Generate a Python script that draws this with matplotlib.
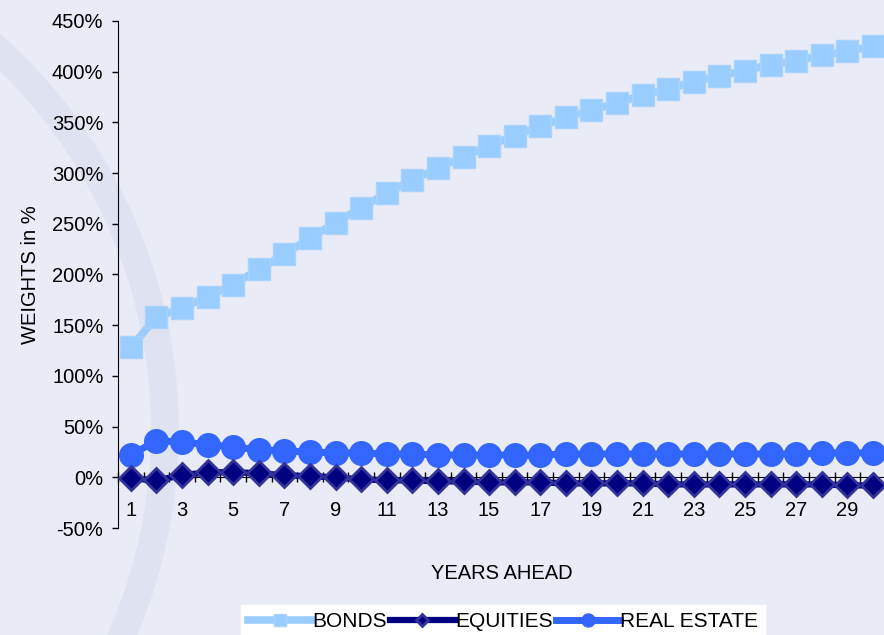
import matplotlib
matplotlib.use("Agg")
import matplotlib.pyplot as plt
from matplotlib.ticker import PercentFormatter, MultipleLocator, FixedLocator
from matplotlib.patches import Ellipse

plt.rcParams['font.family'] = ['Liberation Sans', 'DejaVu Sans']
plt.rcParams['axes.unicode_minus'] = False

# 데이터 (그림에서 읽은 값, %)
years = list(range(1, 31))
bonds = [128, 158, 167, 178, 190, 205, 220, 236, 251, 266,
         280, 293, 305, 316, 327, 337, 346, 355, 362, 369,
         377, 383, 390, 396, 401, 407, 411, 416, 420, 425]
equities = [-1, -3, 2, 5, 5, 4, 2, 1, 0, -2,
            -3, -3, -4, -4, -5, -5, -5, -6, -6, -6,
            -6, -7, -7, -7, -7, -7, -7, -7, -8, -8]
real_estate = [22, 36, 35, 32, 30, 27, 26, 25, 24, 24,
               23, 23, 22, 22, 22, 22, 22, 23, 23, 23,
               23, 23, 23, 23, 23, 23, 23, 24, 24, 24]
odd_labels = [str(y) for y in years if y % 2 == 1]

bg = '#E9EBF6'
fig = plt.figure(figsize=(8.84, 6.35), dpi=100, facecolor=bg)

# 배경 워터마크 (희미한 호)
wm = Ellipse((-0.396, 0.323), 1.165, 1.622, fill=False, lw=20,
             edgecolor='#D3DBEC', alpha=0.45, transform=fig.transFigure, zorder=0)
fig.add_artist(wm)

ax = fig.add_axes([0.1335, 0.1685, 0.8685, 0.7985])
ax.set_facecolor('none')

ax.plot(years, bonds, color='#99CCFF', lw=5.5, marker='s', ms=16,
        mfc='#99CCFF', mec='#A8D3FF', mew=1, label='BONDS', clip_on=False, zorder=3)
ax.plot(years, equities, color='#000080', lw=4.5, marker='D', ms=12,
        mfc='#000080', mec='#333399', mew=2, label='EQUITIES', clip_on=False, zorder=5)
ax.plot(years, real_estate, color='#3366FF', lw=5, marker='o', ms=17,
        mfc='#3366FF', mec='#3366FF', label='REAL ESTATE', clip_on=False, zorder=4)

ax.set_xlim(0.5, 30.5)
ax.set_ylim(-50, 450)
ax.yaxis.set_major_locator(MultipleLocator(50))
ax.yaxis.set_major_formatter(PercentFormatter(decimals=0))

ax.xaxis.set_major_locator(FixedLocator([y for y in years if y % 2 == 1]))
ax.set_xticklabels(odd_labels)
ax.xaxis.set_minor_locator(FixedLocator([y + 0.5 for y in range(0, 31)]))
ax.tick_params(axis='x', which='major', length=0, pad=17, labelsize=14.5)
ax.tick_params(axis='x', which='minor', direction='inout', length=7, width=1)
ax.tick_params(axis='y', direction='out', length=4.5, width=1, pad=6, labelsize=14.5)

for s in ['top', 'right']:
    ax.spines[s].set_visible(False)
ax.spines['bottom'].set_position(('data', 0))
ax.spines['bottom'].set_zorder(2)

ax.set_ylabel('WEIGHTS in %', fontsize=14.5)
ax.yaxis.set_label_coords(-0.102, 0.5)
ax.set_xlabel('YEARS AHEAD', fontsize=14.5)
ax.xaxis.set_label_coords(0.5, -0.071)

leg = fig.legend(loc='lower center', bbox_to_anchor=(0.569, -0.022), ncol=3,
                 fontsize=15, frameon=True, fancybox=False, handlelength=3.1,
                 handletextpad=0.0, columnspacing=0.15, borderpad=0.35,
                 markerscale=0.55)
leg.get_frame().set_facecolor('white')
leg.get_frame().set_edgecolor('white')
leg.get_frame().set_alpha(1)

plt.savefig('out.png', dpi=100, facecolor=bg)
